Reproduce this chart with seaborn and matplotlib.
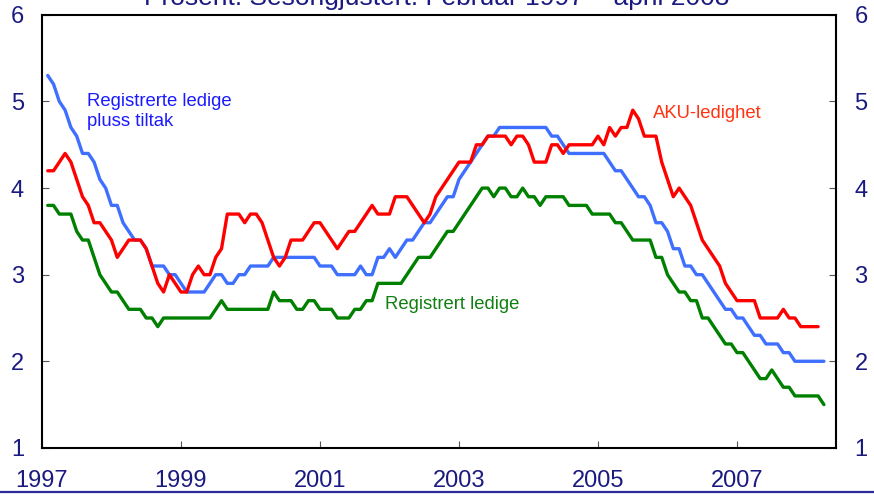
import numpy as np
import pandas as pd
import matplotlib
matplotlib.use("Agg")
import matplotlib.pyplot as plt
from matplotlib.lines import Line2D
import seaborn as sns

# monthly values, Feb 1997 - Apr 2008 (AKU ends Mar 2008)
reg_tiltak = [5.3, 5.2, 5.0, 4.9, 4.7, 4.6, 4.4, 4.4, 4.3, 4.1, 4.0,
              3.8, 3.8, 3.6, 3.5, 3.4, 3.4, 3.3, 3.1, 3.1, 3.1, 3.0, 3.0,
              2.9, 2.8, 2.8, 2.8, 2.8, 2.9, 3.0, 3.0, 2.9, 2.9, 3.0, 3.0,
              3.1, 3.1, 3.1, 3.1, 3.2, 3.2, 3.2, 3.2, 3.2, 3.2, 3.2, 3.2,
              3.1, 3.1, 3.1, 3.0, 3.0, 3.0, 3.0, 3.1, 3.0, 3.0, 3.2, 3.2,
              3.3, 3.2, 3.3, 3.4, 3.4, 3.5, 3.6, 3.6, 3.7, 3.8, 3.9, 3.9,
              4.1, 4.2, 4.3, 4.4, 4.5, 4.6, 4.6, 4.7, 4.7, 4.7, 4.7, 4.7,
              4.7, 4.7, 4.7, 4.7, 4.6, 4.6, 4.5, 4.4, 4.4, 4.4, 4.4, 4.4,
              4.4, 4.4, 4.3, 4.2, 4.2, 4.1, 4.0, 3.9, 3.9, 3.8, 3.6, 3.6,
              3.5, 3.3, 3.3, 3.1, 3.1, 3.0, 3.0, 2.9, 2.8, 2.7, 2.6, 2.6,
              2.5, 2.5, 2.4, 2.3, 2.3, 2.2, 2.2, 2.2, 2.1, 2.1, 2.0, 2.0,
              2.0, 2.0, 2.0, 2.0]

aku = [4.2, 4.2, 4.3, 4.4, 4.3, 4.1, 3.9, 3.8, 3.6, 3.6, 3.5,
       3.4, 3.2, 3.3, 3.4, 3.4, 3.4, 3.3, 3.1, 2.9, 2.8, 3.0, 2.9,
       2.8, 2.8, 3.0, 3.1, 3.0, 3.0, 3.2, 3.3, 3.7, 3.7, 3.7, 3.6,
       3.7, 3.7, 3.6, 3.4, 3.2, 3.1, 3.2, 3.4, 3.4, 3.4, 3.5, 3.6,
       3.6, 3.5, 3.4, 3.3, 3.4, 3.5, 3.5, 3.6, 3.7, 3.8, 3.7, 3.7,
       3.7, 3.9, 3.9, 3.9, 3.8, 3.7, 3.6, 3.7, 3.9, 4.0, 4.1, 4.2,
       4.3, 4.3, 4.3, 4.5, 4.5, 4.6, 4.6, 4.6, 4.6, 4.5, 4.6, 4.6,
       4.5, 4.3, 4.3, 4.3, 4.5, 4.5, 4.4, 4.5, 4.5, 4.5, 4.5, 4.5,
       4.6, 4.5, 4.7, 4.6, 4.7, 4.7, 4.9, 4.8, 4.6, 4.6, 4.6, 4.3,
       4.1, 3.9, 4.0, 3.9, 3.8, 3.6, 3.4, 3.3, 3.2, 3.1, 2.9, 2.8,
       2.7, 2.7, 2.7, 2.7, 2.5, 2.5, 2.5, 2.5, 2.6, 2.5, 2.5, 2.4,
       2.4, 2.4, 2.4]

reg_ledige = [3.8, 3.8, 3.7, 3.7, 3.7, 3.5, 3.4, 3.4, 3.2, 3.0, 2.9,
              2.8, 2.8, 2.7, 2.6, 2.6, 2.6, 2.5, 2.5, 2.4, 2.5, 2.5, 2.5,
              2.5, 2.5, 2.5, 2.5, 2.5, 2.5, 2.6, 2.7, 2.6, 2.6, 2.6, 2.6,
              2.6, 2.6, 2.6, 2.6, 2.8, 2.7, 2.7, 2.7, 2.6, 2.6, 2.7, 2.7,
              2.6, 2.6, 2.6, 2.5, 2.5, 2.5, 2.6, 2.6, 2.7, 2.7, 2.9, 2.9,
              2.9, 2.9, 2.9, 3.0, 3.1, 3.2, 3.2, 3.2, 3.3, 3.4, 3.5, 3.5,
              3.6, 3.7, 3.8, 3.9, 4.0, 4.0, 3.9, 4.0, 4.0, 3.9, 3.9, 4.0,
              3.9, 3.9, 3.8, 3.9, 3.9, 3.9, 3.9, 3.8, 3.8, 3.8, 3.8, 3.7,
              3.7, 3.7, 3.7, 3.6, 3.6, 3.5, 3.4, 3.4, 3.4, 3.4, 3.2, 3.2,
              3.0, 2.9, 2.8, 2.8, 2.7, 2.7, 2.5, 2.5, 2.4, 2.3, 2.2, 2.2,
              2.1, 2.1, 2.0, 1.9, 1.8, 1.8, 1.9, 1.8, 1.7, 1.7, 1.6, 1.6,
              1.6, 1.6, 1.6, 1.5]

year_ticks = [1997, 1999, 2001, 2003, 2005, 2007]
y_ticks = [1, 2, 3, 4, 5, 6]

n = len(reg_tiltak)
df = pd.DataFrame({"year": 1997 + (np.arange(n) + 1) / 12.0,
                   "tiltak": reg_tiltak,
                   "ledige": reg_ledige})
df["aku"] = aku + [np.nan] * (n - len(aku))

sns.set_style("white")
plt.rcParams['font.family'] = ['Liberation Sans', 'DejaVu Sans']

navy = "#1a1a80"
fig = plt.figure(figsize=(8.74, 4.96), dpi=100)
ax = fig.add_axes([0.048, 0.097, 0.909, 0.873])

sns.lineplot(data=df, x="year", y="tiltak", color="#3f6fff", lw=2.4, ax=ax)
sns.lineplot(data=df, x="year", y="aku", color="#ff0000", lw=2.4, ax=ax)
sns.lineplot(data=df, x="year", y="ledige", color="#008000", lw=2.4, ax=ax)

ax.set_xlim(1997, 2008.43)
ax.set_ylim(1, 6)
ax.set_xticks(year_ticks)
ax.set_xticklabels([str(y) for y in year_ticks])
ax.set_yticks(y_ticks)
ax.set_xlabel("")
ax.set_ylabel("")
ax.tick_params(axis="both", direction="in", length=5, width=0.8,
               colors="#555555", labelcolor=navy, labelsize=17)
ax.tick_params(axis="y", left=True, right=True, labelleft=True,
               labelright=True, pad=13)
ax.tick_params(axis="x", bottom=True, pad=16)
for side in ["left", "right", "top", "bottom"]:
    ax.spines[side].set_visible(True)
    ax.spines[side].set_color("black")
    ax.spines[side].set_linewidth(1.5)

ax.text(1997.65, 5.1, "Registrerte ledige\npluss tiltak", color="#1a1aff",
        fontsize=13.3, va="top", ha="left", linespacing=1.25)
ax.text(2005.79, 4.86, "AKU-ledighet", color="#ff3311", fontsize=13.3,
        va="center", ha="left")
ax.text(2001.94, 2.65, "Registrert ledige", color="#108010", fontsize=13.3,
        va="center", ha="left")

fig.text(0.5, 0.99, "Prosent. Sesongjustert. Februar 1997 \u2013 april 2008",
         ha="center", va="baseline", color=navy, fontsize=19)
fig.add_artist(Line2D([0, 1], [0.008, 0.008], color="#2b2b9a", lw=1.6))

fig.savefig("out.png", dpi=100)
